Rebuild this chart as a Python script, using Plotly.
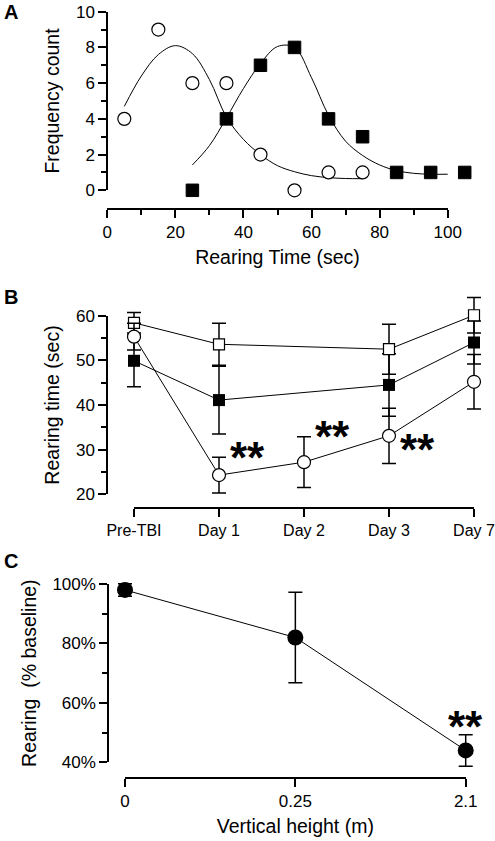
import plotly.graph_objects as go

# ---------------- Data ----------------
# Panel A: frequency histogram points
a_circle_x = [5, 15, 25, 35, 45, 55, 65, 75]
a_circle_y = [4, 9, 6, 6, 2, 0, 1, 1]
a_square_x = [25, 35, 45, 55, 65, 75, 85, 95, 105]
a_square_y = [0, 4, 7, 8, 4, 3, 1, 1, 1]
# fitted curves
a_circle_fit_x = [5, 10, 15, 20, 25, 30, 35, 40, 45, 50, 55, 60, 65, 70, 75]
a_circle_fit_y = [4.7, 6.4, 7.6, 8.1, 7.65, 6.2, 4.1, 2.85, 2.0, 1.38, 1.04, 0.82, 0.71, 0.66, 0.65]
a_square_fit_x = [25, 30, 35, 40, 45, 50, 55, 60, 65, 70, 75, 80, 85, 90, 95, 100]
a_square_fit_y = [1.42, 2.5, 4.05, 5.7, 7.1, 8.05, 8.0, 6.3, 4.2, 2.75, 1.95, 1.42, 1.1, 0.95, 0.9, 0.9]

# Panel B: rearing time over days
b_days = ["Pre-TBI", "Day 1", "Day 2", "Day 3", "Day 7"]
b_open_sq_days = ["Pre-TBI", "Day 1", "Day 3", "Day 7"]
b_open_sq = [58.4, 53.6, 52.5, 60.1]
b_open_sq_err = [2.3, 4.7, 5.6, 4.0]
b_fill_sq_days = ["Pre-TBI", "Day 1", "Day 3", "Day 7"]
b_fill_sq = [49.9, 41.1, 44.5, 54.0]
b_fill_sq_err = [5.8, 7.6, 7.0, 4.8]
b_circle = [55.3, 24.3, 27.2, 33.1, 45.2]
b_circle_err = [3.0, 4.0, 5.7, 6.2, 6.1]

# Panel C: rearing vs vertical height
c_heights = ["0", "0.25", "2.1"]
c_values = [98.0, 82.0, 44.0]
c_err = [2.1, 15.2, 5.3]

# ---------------- Geometry helpers ----------------
W, H = 495, 841
def px(x):
    return x / W
def py(y):
    return 1 - y / H

def ext_domain(p0, p1, v0, v1, lo, hi):
    """Pixel span of an axis with range [lo, hi] sharing the scale of an axis
    whose values v0..v1 lie at pixels p0..p1."""
    s = (p1 - p0) / (v1 - v0)
    return p0 + (lo - v0) * s, p0 + (hi - v0) * s

FONT = "Arial, Liberation Sans, sans-serif"
TICK = dict(size=17, color="black", family=FONT)
TICK_B = dict(size=16, color="black", family=FONT)
TITLE = dict(size=19.5, color="black", family=FONT)

fig = go.Figure()
LINE = dict(color="black", width=1)
ERR = dict(type="data", thickness=1.5, width=7, color="black")

# empty traces so that the visible axis frames are created as subplots
for xa, ya in [("x", "y"), ("x2", "y2"), ("x3", "y3")]:
    fig.add_trace(go.Scatter(x=[], y=[], xaxis=xa, yaxis=ya, showlegend=False, hoverinfo="skip"))

# Panel A (data drawn on extended hidden axes x4/y4 with identical scale)
fig.add_trace(go.Scatter(x=a_circle_fit_x, y=a_circle_fit_y, mode="lines",
                         line=dict(color="black", width=1, shape="spline"),
                         xaxis="x4", yaxis="y4", showlegend=False, hoverinfo="skip"))
fig.add_trace(go.Scatter(x=a_square_fit_x, y=a_square_fit_y, mode="lines",
                         line=dict(color="black", width=1, shape="spline"),
                         xaxis="x4", yaxis="y4", showlegend=False, hoverinfo="skip"))
fig.add_trace(go.Scatter(x=a_circle_x, y=a_circle_y, mode="markers", cliponaxis=False,
                         marker=dict(symbol="circle", size=13, color="white", line=dict(color="black", width=1.2)),
                         xaxis="x4", yaxis="y4", showlegend=False))
fig.add_trace(go.Scatter(x=a_square_x, y=a_square_y, mode="markers", cliponaxis=False,
                         marker=dict(symbol="square", size=12.5, color="black", line=dict(color="black", width=1)),
                         xaxis="x4", yaxis="y4", showlegend=False))

# Panel B
fig.add_trace(go.Scatter(x=b_fill_sq_days, y=b_fill_sq, mode="lines+markers", cliponaxis=False,
                         error_y=dict(array=b_fill_sq_err, **ERR), line=LINE,
                         marker=dict(symbol="square", size=12, color="black"),
                         xaxis="x5", yaxis="y5", showlegend=False))
fig.add_trace(go.Scatter(x=b_open_sq_days, y=b_open_sq, mode="lines+markers", cliponaxis=False,
                         error_y=dict(array=b_open_sq_err, **ERR), line=LINE,
                         marker=dict(symbol="square", size=11, color="white", line=dict(color="black", width=1.2)),
                         xaxis="x5", yaxis="y5", showlegend=False))
fig.add_trace(go.Scatter(x=b_days, y=b_circle, mode="lines+markers", cliponaxis=False,
                         error_y=dict(array=b_circle_err, **ERR), line=LINE,
                         marker=dict(symbol="circle", size=13, color="white", line=dict(color="black", width=1.2)),
                         xaxis="x5", yaxis="y5", showlegend=False))

# Panel C
fig.add_trace(go.Scatter(x=c_heights, y=c_values, mode="lines+markers", cliponaxis=False,
                         error_y=dict(array=c_err, **ERR), line=LINE,
                         marker=dict(symbol="circle", size=16, color="black"),
                         xaxis="x6", yaxis="y6", showlegend=False))

AX = dict(showline=True, linecolor="black", linewidth=2, ticks="outside", ticklen=8, tickwidth=1.8,
          tickcolor="black", showgrid=False, zeroline=False, tickfont=TICK, fixedrange=True, automargin=False)
MINOR = dict(ticks="outside", ticklen=5, tickwidth=1.8, tickcolor="black", showgrid=False)
HID = dict(visible=False, showgrid=False, zeroline=False, fixedrange=True, automargin=False)

# Panel A geometry
A_x0, A_x1 = 107.3, 447.7
A_y0, A_y1 = 190.3, 11.7
ax4 = ext_domain(A_x0, A_x1, 0, 100, -6, 110)
ay4 = ext_domain(A_y0, A_y1, 0, 10, -1, 10.5)
# Panel B geometry
B_x0, B_x1 = 134, 474
B_y0, B_y1 = 494.3, 315.7
bx5 = ext_domain(B_x0, B_x1, 0, 4, -0.3, 4.2)
by5 = ext_domain(B_y0, B_y1, 20, 60, 15, 66)
# Panel C geometry
C_x0, C_x1 = 125, 465.7
C_y0, C_y1 = 762.3, 584
cx6 = ext_domain(C_x0, C_x1, 0, 2, -0.2, 2.15)
cy6 = ext_domain(C_y0, C_y1, 40, 100, 35, 105)

fig.update_layout(
    width=W, height=H, margin=dict(l=0, r=0, t=0, b=0, pad=0), autosize=False,
    paper_bgcolor="white", plot_bgcolor="rgba(0,0,0,0)",
    font=dict(family=FONT, color="black"),
    # Panel A visible axes
    xaxis=dict(AX, domain=[px(A_x0), px(A_x1)], range=[0, 100], tick0=0, dtick=20,
               minor=dict(MINOR, dtick=10), anchor="free", position=py(209),
               title=dict(text="Rearing Time (sec)", font=TITLE, standoff=8)),
    yaxis=dict(AX, domain=[py(A_y0), py(A_y1)], range=[0, 10], tick0=0, dtick=2,
               minor=dict(MINOR, dtick=1), anchor="free", position=px(A_x0),
               title=dict(text="Frequency count", font=TITLE, standoff=10)),
    xaxis4=dict(HID, domain=[px(ax4[0]), px(ax4[1])], range=[-6, 110], anchor="y4"),
    yaxis4=dict(HID, domain=[py(ay4[0]), py(ay4[1])], range=[-1, 10.5], anchor="x4"),
    # Panel B visible axes
    xaxis2=dict(AX, type="category", categoryorder="array", categoryarray=b_days,
                tickvals=b_days, ticktext=b_days, tickfont=TICK_B,
                domain=[px(B_x0), px(B_x1)], range=[0, 4], anchor="free", position=py(507.7)),
    yaxis2=dict(AX, domain=[py(B_y0), py(B_y1)], range=[20, 60], tick0=20, dtick=10,
                minor=dict(MINOR, dtick=5), anchor="free", position=px(107.3),
                title=dict(text="Rearing time (sec)", font=TITLE, standoff=10)),
    xaxis5=dict(HID, type="category", categoryorder="array", categoryarray=b_days,
                domain=[px(bx5[0]), px(bx5[1])], range=[-0.3, 4.2], anchor="y5"),
    yaxis5=dict(HID, domain=[py(by5[0]), py(by5[1])], range=[15, 66], anchor="x5"),
    # Panel C visible axes
    xaxis3=dict(AX, type="category", categoryorder="array", categoryarray=c_heights,
                tickvals=c_heights, ticktext=c_heights,
                domain=[px(C_x0), px(C_x1)], range=[0, 2], anchor="free", position=py(777.7),
                title=dict(text="Vertical height (m)", font=TITLE, standoff=8)),
    yaxis3=dict(AX, domain=[py(C_y0), py(C_y1)], range=[40, 100], tick0=40, dtick=20, ticksuffix="%",
                minor=dict(MINOR, dtick=10), anchor="free", position=px(108.3),
                title=dict(text="Rearing  (% baseline)", font=TITLE, standoff=10)),
    xaxis6=dict(HID, type="category", categoryorder="array", categoryarray=c_heights,
                domain=[px(cx6[0]), px(cx6[1])], range=[-0.2, 2.15], anchor="y6"),
    yaxis6=dict(HID, domain=[py(cy6[0]), py(cy6[1])], range=[35, 105], anchor="x6"),
)

STAR = dict(size=44, color="black", family=FONT)
annots = []
for letter, yy in [("A", 12), ("B", 297), ("C", 561)]:
    annots.append(dict(text="<b>%s</b>" % letter, x=px(2), y=py(yy), xref="paper", yref="paper",
                       xanchor="left", yanchor="middle", showarrow=False,
                       font=dict(size=20, color="black", family=FONT)))
b_star_pos = [(1.33, 29.5), (2.33, 34.2), (3.33, 31.4)]
for (xx, yy) in b_star_pos:
    annots.append(dict(text="<b>**</b>", x=xx, y=yy, xref="x2", yref="y2", showarrow=False,
                       xanchor="center", yanchor="middle", yshift=-6, font=STAR))
annots.append(dict(text="<b>**</b>", x=2, y=54.2, xref="x3", yref="y3", showarrow=False,
                   xanchor="center", yanchor="middle", yshift=-6, font=STAR))
fig.update_layout(annotations=annots)

# remove the browser's default 8px body margin so the figure sits at the page origin
fig.write_html("out.html", config={"displayModeBar": False},
               post_script="document.body.style.margin='0';")
